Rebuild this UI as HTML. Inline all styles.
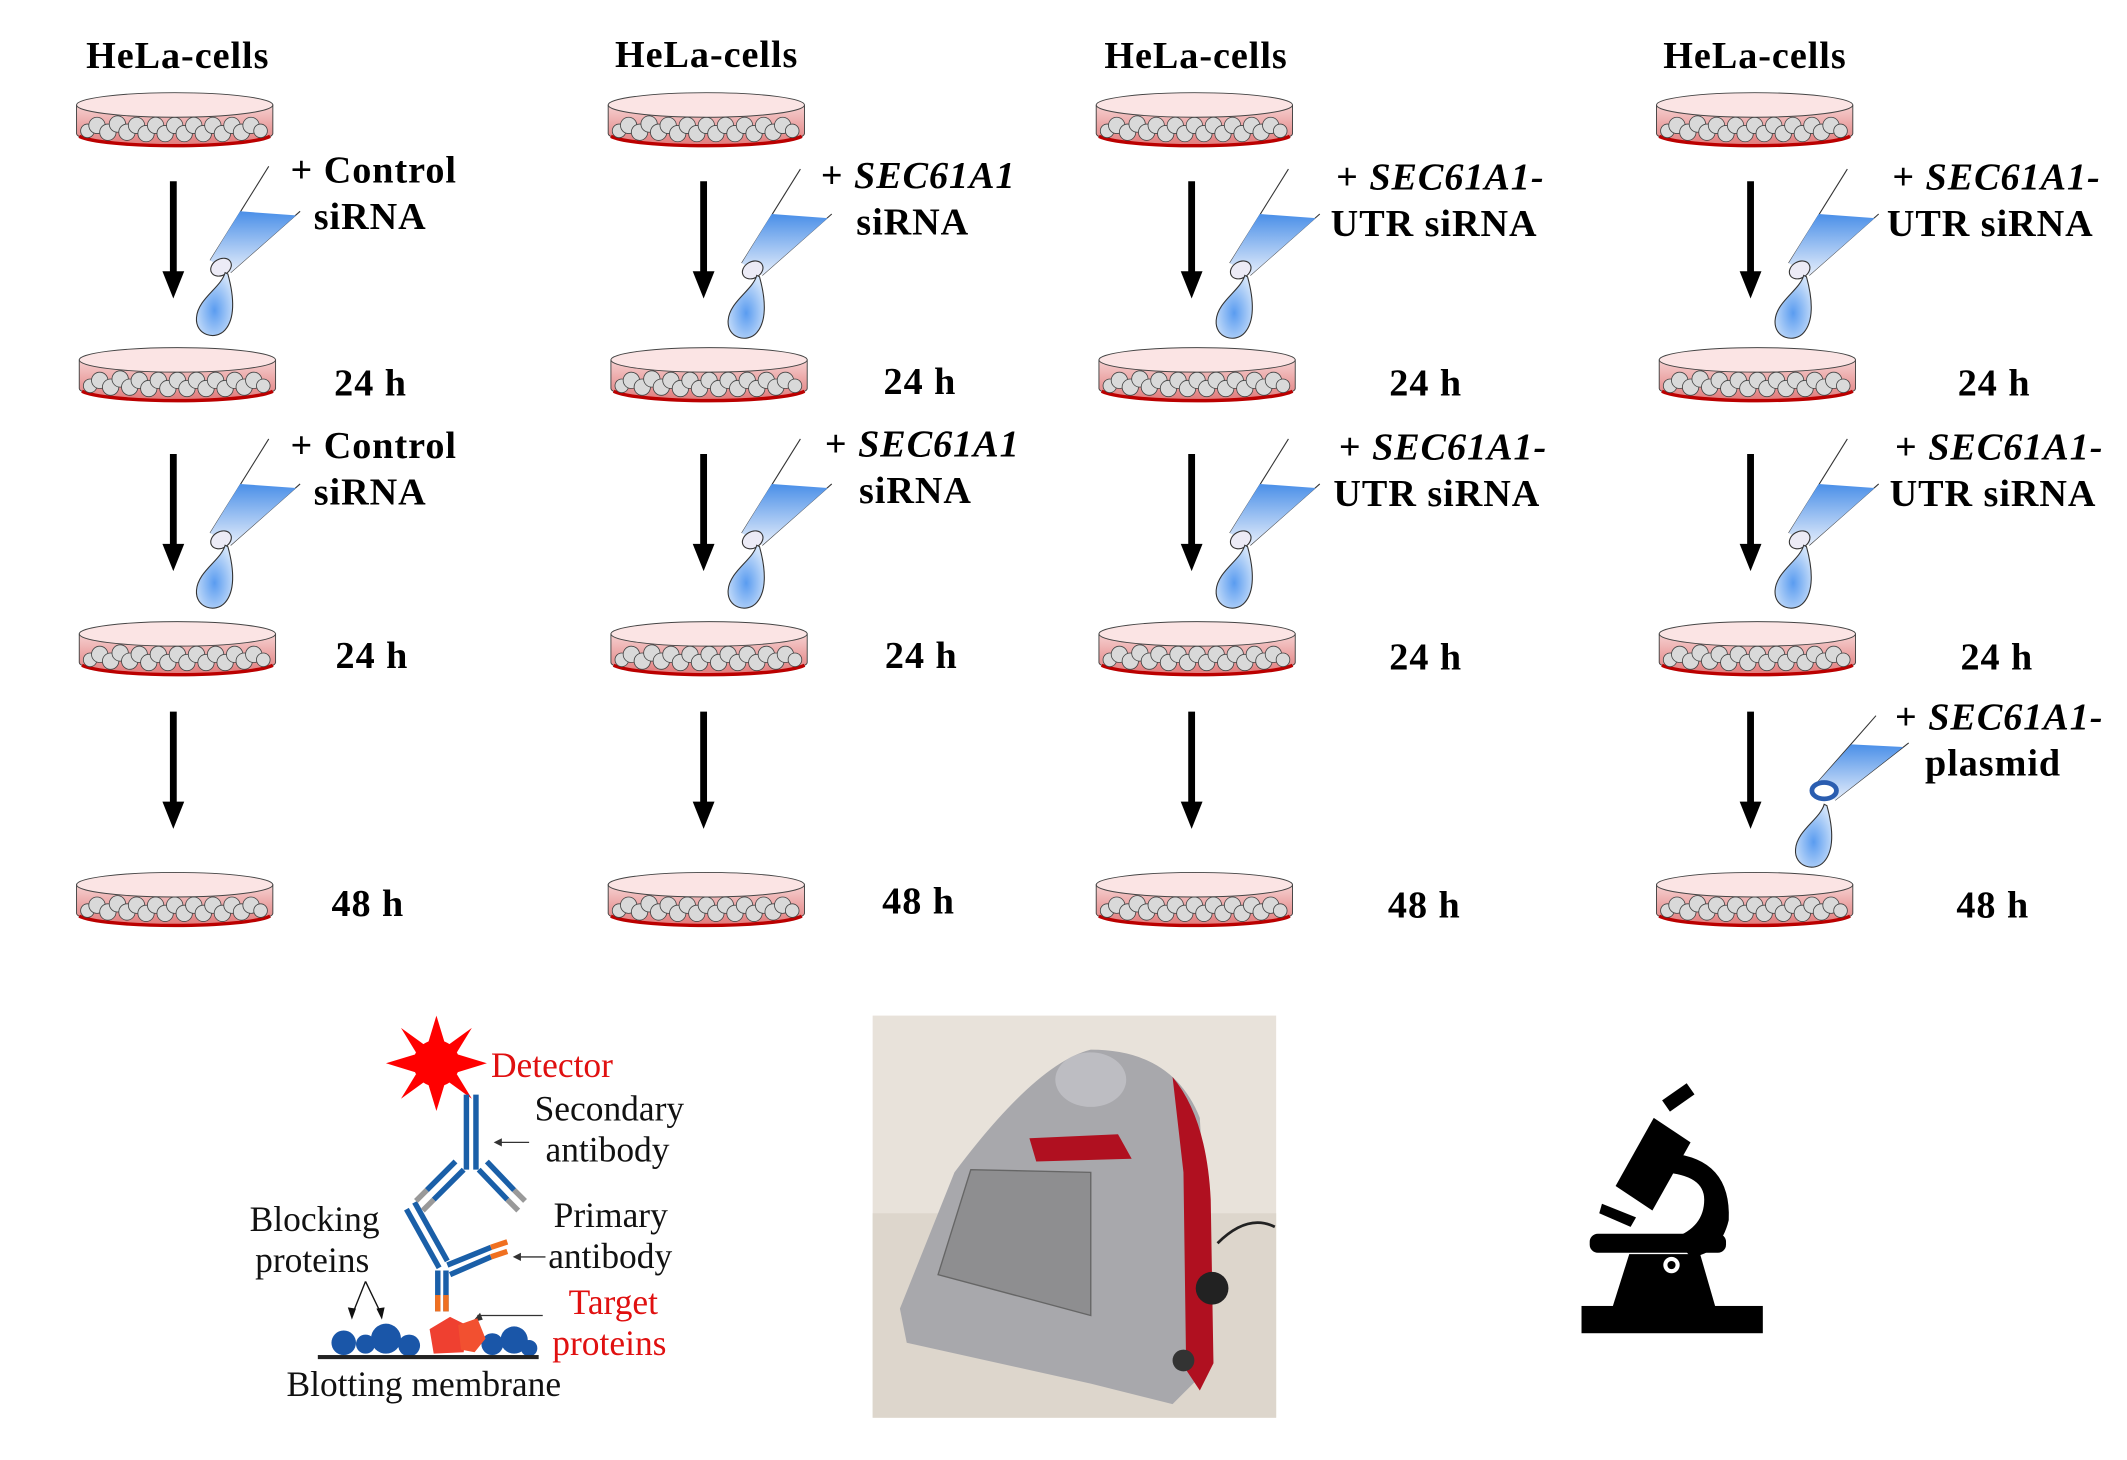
<!DOCTYPE html>
<html><head><meta charset="utf-8"><style>
html,body{margin:0;padding:0;background:#fff;width:2127px;height:1460px;overflow:hidden}
svg{display:block}
.b{font-family:"Liberation Serif",serif;font-weight:bold;font-size:28px;letter-spacing:0.7px;fill:#000}
.n{font-family:"Liberation Serif",serif;font-size:26px;fill:#111}
.r{fill:#e01010}
</style></head><body>
<svg width="2127" height="1460" viewBox="0 0 1560 1071" xmlns="http://www.w3.org/2000/svg">
<defs>
<linearGradient id="pk" x1="0" y1="0" x2="0" y2="1"><stop offset="0" stop-color="#f6d0d0"/><stop offset="1" stop-color="#e07a7a"/></linearGradient>
<linearGradient id="bl" x1="0" y1="0" x2="0" y2="1"><stop offset="0" stop-color="#4a8fe8"/><stop offset="1" stop-color="#e6eefb"/></linearGradient>
<radialGradient id="dr" cx="0.5" cy="0.6" r="0.6"><stop offset="0" stop-color="#5a9cf0"/><stop offset="1" stop-color="#cfe2fa"/></radialGradient>
<g id="dish">
<path d="M-72,0 L-72,21 A72,9 0 0 0 72,21 L72,0 Z" fill="url(#pk)" stroke="#444" stroke-width="0.7"/>
<path d="M-70,23 A72,9 0 0 0 70,23" fill="none" stroke="#b00" stroke-width="2.5"/>
<g fill="#d9d9d9" stroke="#444" stroke-width="0.6">
<circle cx="-64" cy="19" r="5"/><circle cx="-57" cy="15" r="6"/><circle cx="-49" cy="20" r="6"/><circle cx="-42" cy="14" r="6"/><circle cx="-35" cy="20" r="6"/><circle cx="-28" cy="15" r="6"/><circle cx="-21" cy="21" r="6"/><circle cx="-14" cy="15" r="6"/><circle cx="-7" cy="21" r="6"/><circle cx="0" cy="15" r="6"/><circle cx="7" cy="21" r="6"/><circle cx="14" cy="15" r="6"/><circle cx="21" cy="21" r="6"/><circle cx="28" cy="15" r="6"/><circle cx="35" cy="21" r="6"/><circle cx="42" cy="15" r="6"/><circle cx="49" cy="20" r="6"/><circle cx="56" cy="15" r="6"/><circle cx="63" cy="19" r="5"/>
</g>
<ellipse cx="0" cy="0" rx="72" ry="9" fill="#fbe4e4" stroke="#444" stroke-width="0.7"/>
</g>
<g id="drop">
<path d="M3,5 C0,16 -17,24 -18,38 C-19,51 -4,55 3,47 C10,39 10,24 5,6 Z" fill="url(#dr)" stroke="#333" stroke-width="0.8"/>
</g>
<g id="pip">
<line x1="35" y1="-73" x2="-8" y2="-4" stroke="#333" stroke-width="0.8"/>
<line x1="58" y1="-40" x2="7" y2="5" stroke="#333" stroke-width="0.8"/>
<polygon points="14,-40 55,-37 7,5 -8,-4" fill="url(#bl)"/>
<ellipse cx="0" cy="1" rx="8" ry="6" transform="rotate(-30 0 1)" fill="#ecebf6" stroke="#333" stroke-width="0.8"/>
<use href="#drop"/>
</g>
<g id="arr"><line x1="0" y1="0" x2="0" y2="70" stroke="#000" stroke-width="5"/><polygon points="-8,66 8,66 0,86" fill="#000"/></g>
</defs>

<text class="b" x="63" y="50">HeLa-cells</text>
<text class="b" x="451" y="49">HeLa-cells</text>
<text class="b" x="810" y="50">HeLa-cells</text>
<text class="b" x="1220" y="50">HeLa-cells</text>

<g id="col1">
<use href="#dish" x="128" y="77"/><use href="#dish" x="130" y="264"/><use href="#dish" x="130" y="465"/><use href="#dish" x="128" y="649"/>
</g>
<use href="#col1" x="390"/><use href="#col1" x="748"/><use href="#col1" x="1159"/>

<g id="arrs"><use href="#arr" x="127" y="133"/><use href="#arr" x="127" y="333"/><use href="#arr" x="127" y="522"/></g>
<use href="#arrs" x="389"/><use href="#arrs" x="747"/><use href="#arrs" x="1157"/>

<use href="#pip" x="162" y="195"/><use href="#pip" x="162" y="395"/>
<use href="#pip" x="552" y="197"/><use href="#pip" x="552" y="395"/>
<use href="#pip" x="910" y="197"/><use href="#pip" x="910" y="395"/>
<use href="#pip" x="1320" y="197"/><use href="#pip" x="1320" y="395"/>
<g transform="translate(1338,580)">
<line x1="38" y1="-55" x2="-5" y2="-6" stroke="#333" stroke-width="0.8"/>
<line x1="62" y1="-35" x2="8" y2="7" stroke="#333" stroke-width="0.8"/>
<polygon points="20,-34 58,-32 8,7 -5,-6" fill="url(#bl)"/>
<use href="#drop" x="-3" y="5"/>
<ellipse cx="0" cy="0" rx="9" ry="6" fill="#fff" stroke="#2a5db0" stroke-width="3.5"/>
</g>

<text class="b" x="213" y="134">+ Control</text><text class="b" x="230" y="168">siRNA</text>
<text class="b" x="213" y="336">+ Control</text><text class="b" x="230" y="370">siRNA</text>
<text class="b" x="245" y="290">24 h</text><text class="b" x="246" y="490">24 h</text><text class="b" x="243" y="672">48 h</text>
<text class="b" x="602" y="138">+ <tspan font-style="italic">SEC61A1</tspan></text><text class="b" x="628" y="172">siRNA</text>
<text class="b" x="605" y="335">+ <tspan font-style="italic">SEC61A1</tspan></text><text class="b" x="630" y="369">siRNA</text>
<text class="b" x="648" y="289">24 h</text><text class="b" x="649" y="490">24 h</text><text class="b" x="647" y="670">48 h</text>
<text class="b" x="980" y="139">+ <tspan font-style="italic">SEC61A1-</tspan></text><text class="b" x="976" y="173">UTR siRNA</text>
<text class="b" x="982" y="337">+ <tspan font-style="italic">SEC61A1-</tspan></text><text class="b" x="978" y="371">UTR siRNA</text>
<text class="b" x="1019" y="290">24 h</text><text class="b" x="1019" y="491">24 h</text><text class="b" x="1018" y="673">48 h</text>
<text class="b" x="1388" y="139">+ <tspan font-style="italic">SEC61A1-</tspan></text><text class="b" x="1384" y="173">UTR siRNA</text>
<text class="b" x="1390" y="337">+ <tspan font-style="italic">SEC61A1-</tspan></text><text class="b" x="1386" y="371">UTR siRNA</text>
<text class="b" x="1390" y="535">+ <tspan font-style="italic">SEC61A1-</tspan></text><text class="b" x="1412" y="569">plasmid</text>
<text class="b" x="1436" y="290">24 h</text><text class="b" x="1438" y="491">24 h</text><text class="b" x="1435" y="673">48 h</text>

<g>
<g fill="#f00">
<polygon points="320,745 327,768 313,768"/><polygon points="320,815 327,792 313,792"/>
<polygon points="283,780 306,773 306,787"/><polygon points="357,780 334,773 334,787"/>
<polygon points="294,754 312,767 305,772"/><polygon points="346,754 328,767 335,772"/>
<polygon points="294,806 312,793 305,788"/><polygon points="346,806 328,793 335,788"/>
<circle cx="320" cy="780" r="17"/>
</g>
<text class="n r" x="360" y="790">Detector</text>
<text class="n" x="392" y="822">Secondary</text><text class="n" x="400" y="852">antibody</text>
<line x1="388" y1="838" x2="364" y2="838" stroke="#333" stroke-width="1"/><polygon points="362,838 368,835 368,841" fill="#333"/>
<g stroke="#1a5fa8" stroke-width="4" fill="none">
<line x1="342" y1="803" x2="342" y2="858"/><line x1="349" y1="803" x2="349" y2="858"/>
<line x1="340" y1="858" x2="318" y2="880"/><line x1="334" y1="852" x2="313" y2="873"/>
<line x1="351" y1="858" x2="372" y2="880"/><line x1="357" y1="852" x2="377" y2="873"/>
<line x1="304" y1="882" x2="328" y2="925"/><line x1="298" y1="887" x2="322" y2="930"/>
<line x1="328" y1="928" x2="360" y2="915"/><line x1="330" y1="935" x2="360" y2="922"/>
<line x1="321" y1="932" x2="321" y2="962"/><line x1="327" y1="932" x2="327" y2="962"/>
</g>
<g stroke="#999" stroke-width="4"><line x1="318" y1="880" x2="310" y2="888"/><line x1="313" y1="873" x2="305" y2="881"/><line x1="372" y1="880" x2="380" y2="888"/><line x1="377" y1="873" x2="385" y2="881"/></g>
<g stroke="#f07020" stroke-width="4"><line x1="360" y1="915" x2="372" y2="911"/><line x1="360" y1="922" x2="372" y2="918"/><line x1="321" y1="950" x2="321" y2="962"/><line x1="327" y1="950" x2="327" y2="962"/></g>
<text class="n" x="183" y="903">Blocking</text><text class="n" x="187" y="933">proteins</text>
<text class="n" x="406" y="900">Primary</text><text class="n" x="402" y="930">antibody</text>
<line x1="400" y1="922" x2="378" y2="922" stroke="#333"/><polygon points="376,922 382,919 382,925" fill="#333"/>
<text class="n r" x="417" y="964">Target</text><text class="n r" x="405" y="994">proteins</text>
<line x1="398" y1="965" x2="350" y2="965" stroke="#333"/><polygon points="346,970 352,963 354,968" fill="#333"/>
<line x1="268" y1="940" x2="258" y2="965" stroke="#111"/><line x1="268" y1="940" x2="280" y2="965" stroke="#111"/>
<polygon points="258,968 255,959 261,960" fill="#111"/><polygon points="280,968 276,960 282,959" fill="#111"/>
<g fill="#1a56a8">
<circle cx="252" cy="985" r="9"/><circle cx="268" cy="986" r="7"/><circle cx="283" cy="982" r="11"/><circle cx="300" cy="987" r="8"/>
<circle cx="361" cy="986" r="8"/><circle cx="377" cy="983" r="10"/><circle cx="388" cy="989" r="6"/>
</g>
<polygon points="315,975 330,966 342,972 340,992 318,993" fill="#ef4030"/><polygon points="336,972 350,967 356,982 348,992 338,990" fill="#f25030"/>
<rect x="233" y="994" width="162" height="3" fill="#222"/>
<text class="n" x="210" y="1024">Blotting membrane</text>
</g>

<rect x="640" y="745" width="296" height="295" fill="#e8e2da"/>
<rect x="640" y="890" width="296" height="150" fill="#ddd6cc"/>
<path d="M660,960 L700,860 Q760,780 800,770 Q860,770 880,820 L890,1000 L860,1030 L800,1015 L665,985 Z" fill="#a8a8ac"/>
<path d="M860,790 Q885,820 888,880 L890,1000 L880,1020 L870,1005 L868,860 Z" fill="#b01020"/>
<ellipse cx="800" cy="792" rx="26" ry="20" fill="#bdbdc2"/>
<path d="M755,835 L820,832 L830,850 L760,852 Z" fill="#b01020"/>
<path d="M712,858 L800,860 L800,965 L688,935 Z" fill="#8e8e90" stroke="#666"/>
<circle cx="889" cy="945" r="12" fill="#222"/><circle cx="868" cy="998" r="8" fill="#333"/>
<path d="M893,912 Q915,890 935,900" fill="none" stroke="#222" stroke-width="2"/>

<g fill="#000">
<rect x="1160" y="958" width="133" height="20"/>
<polygon points="1183,958 1195,920 1247,920 1258,958"/>
<rect x="1166" y="905" width="100" height="14" rx="6"/>
<polygon points="1185,870 1213,820 1240,838 1212,888"/>
<path d="M1225,846 Q1270,850 1268,895 Q1262,920 1240,922 L1228,908 Q1250,900 1250,880 Q1250,862 1220,860 Z"/>
<polygon points="1175,883 1200,893 1196,900 1173,890"/>
<rect x="1220" y="800" width="22" height="10" transform="rotate(-35 1231 805)"/>
</g>
<circle cx="1226" cy="928" r="6" fill="#fff"/><circle cx="1226" cy="928" r="3" fill="#000"/>
</svg>
</body></html>
